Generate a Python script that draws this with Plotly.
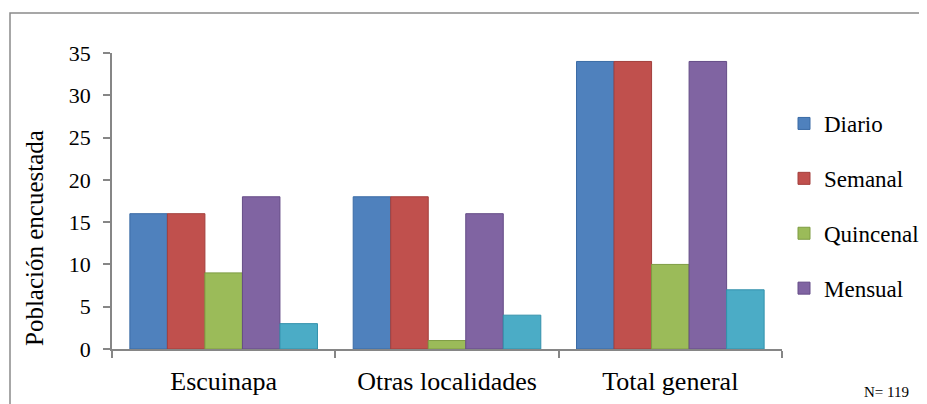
import plotly.graph_objects as go

categories = ["Escuinapa", "Otras localidades", "Total general"]
series_names = ["Diario", "Semanal", "Quincenal", "Mensual", "Otro"]
diario = [16, 18, 34]
semanal = [16, 18, 34]
quincenal = [9, 1, 10]
mensual = [18, 16, 34]
otro = [3, 4, 7]
y_ticks = [0, 5, 10, 15, 20, 25, 30, 35]

values = [diario, semanal, quincenal, mensual, otro]
colors = ["#4F81BD", "#C0504D", "#9BBB59", "#8064A2", "#4BACC6"]
edges = ["#3A6BA5", "#A33F3C", "#7E9C43", "#654C87", "#3291AB"]
in_legend = [True, True, True, True, False]

FONT = "Liberation Serif, serif"
AX = "#868686"

# page body margin shifts the figure by OFF px; coordinates below are screen px
OFF = 8
W, H = 927 - OFF, 404 - OFF
SX0, SX1 = 112, 782   # plot area left/right on screen
SY0, SY1 = 53, 349    # plot area top/bottom on screen
L, R = SX0 - OFF, (W + OFF) - SX1
T, B = SY0 - OFF, (H + OFF) - SY1
pw = SX1 - SX0
ph = SY1 - SY0


def px_x(px):
    return (px - SX0) / pw


def px_y(py):
    return (SY1 - py) / ph


fig = go.Figure()
for i, (name, vals) in enumerate(zip(series_names, values)):
    fig.add_trace(go.Bar(
        x=categories, y=vals, name=name,
        marker=dict(color=colors[i], line=dict(color=edges[i], width=1)),
        showlegend=in_legend[i], legendgroup=name,
    ))

fig.update_layout(
    width=W, height=H,
    margin=dict(l=L, r=R, t=T, b=B, autoexpand=False),
    paper_bgcolor="white", plot_bgcolor="white",
    barmode="group", bargap=0.16, bargroupgap=0,
    font=dict(family=FONT, color="black"),
    legend=dict(
        x=px_x(784), y=px_y(102), xanchor="left", yanchor="top",
        font=dict(size=23, family=FONT, color="black"),
        tracegroupgap=22, bgcolor="rgba(0,0,0,0)",
    ),
    xaxis=dict(
        showline=True, linecolor=AX, linewidth=1.5,
        ticks="outside", tickson="boundaries", ticklen=7, tickcolor=AX, tickwidth=1.5,
        tickfont=dict(size=26, family=FONT, color="black"),
        ticklabelstandoff=8,
        showgrid=False, automargin=False,
    ),
    yaxis=dict(
        range=[0, 35], tickvals=y_ticks, ticktext=[str(v) for v in y_ticks],
        showline=True, linecolor=AX, linewidth=1.5,
        ticks="outside", ticklen=7, tickcolor=AX, tickwidth=1.5,
        tickfont=dict(size=22, family=FONT, color="black"),
        ticklabelstandoff=8,
        showgrid=False, zeroline=False, automargin=False,
    ),
)

# chart frame (cut off at right and bottom like the reference)
fig.add_shape(type="rect", xref="paper", yref="paper",
              x0=px_x(10), x1=px_x(940), y0=px_y(420), y1=px_y(13),
              line=dict(color="#8A8A8A", width=1.5), layer="below")

fig.add_annotation(text="Población encuestada", xref="paper", yref="paper",
                   x=px_x(34), y=px_y(238), xanchor="center", yanchor="middle",
                   textangle=-90, showarrow=False,
                   font=dict(size=25, family=FONT, color="black"))
fig.add_annotation(text="N= 119", xref="paper", yref="paper",
                   x=px_x(887), y=px_y(392), xanchor="center", yanchor="middle",
                   showarrow=False,
                   font=dict(size=15, family=FONT, color="black"))

fig.write_html("out.html")
